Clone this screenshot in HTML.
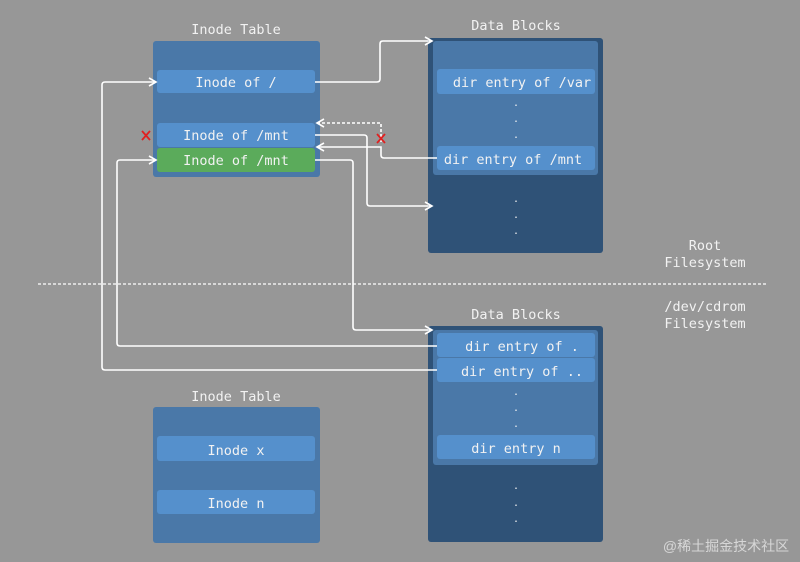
<!DOCTYPE html>
<html><head><style>
html,body{margin:0;padding:0;background:#979797;}
svg{display:block}
text{font-family:"DejaVu Sans Mono","Liberation Mono",monospace;font-size:13.5px;fill:#f2f2f2;text-anchor:middle;}
.d{font-size:10px}
</style></head><body>
<svg width="800" height="562" viewBox="0 0 800 562" xmlns="http://www.w3.org/2000/svg">
<defs>
<marker id="a" markerWidth="10" markerHeight="10" refX="8" refY="5" orient="auto" markerUnits="userSpaceOnUse">
<path d="M1,1 L8,5 L1,9" fill="none" stroke="#fff" stroke-width="1.6"/></marker>
</defs>
<text x="236" y="34">Inode Table</text>
<text x="516" y="30">Data Blocks</text>
<text x="516" y="319">Data Blocks</text>
<text x="236" y="401">Inode Table</text>
<text x="705" y="250">Root</text>
<text x="705" y="267">Filesystem</text>
<text x="705" y="311">/dev/cdrom</text>
<text x="705" y="328">Filesystem</text>
<line x1="38" y1="284" x2="766" y2="284" stroke="#fff" stroke-width="1.2" stroke-dasharray="3,2"/>

<rect x="153" y="41" width="167" height="136" rx="3" fill="#4a78a8"/>
<rect x="157" y="70" width="158" height="23" rx="3" fill="#5590cc"/>
<text x="236" y="87">Inode of /</text>
<rect x="157" y="123" width="158" height="24" rx="3" fill="#5590cc"/>
<text x="236" y="140">Inode of /mnt</text>
<rect x="157" y="148" width="158" height="24" rx="3" fill="#5bab5b"/>
<text x="236" y="165">Inode of /mnt</text>

<rect x="428" y="38" width="175" height="215" rx="3" fill="#2f5277"/>
<rect x="433" y="41" width="165" height="134" rx="3" fill="#4a78a8"/>
<rect x="437" y="69" width="158" height="25" rx="3" fill="#5590cc"/>
<text x="522" y="87">dir entry of /var</text>
<rect x="437" y="146" width="158" height="24" rx="3" fill="#5590cc"/>
<text x="513" y="164">dir entry of /mnt</text>
<text class="d" x="516" y="106">.</text><text class="d" x="516" y="122">.</text><text class="d" x="516" y="138">.</text>
<text class="d" x="516" y="202">.</text><text class="d" x="516" y="218">.</text><text class="d" x="516" y="234">.</text>

<rect x="428" y="326" width="175" height="216" rx="3" fill="#2f5277"/>
<rect x="433" y="330" width="165" height="135" rx="3" fill="#4a78a8"/>
<rect x="437" y="333" width="158" height="24" rx="3" fill="#5590cc"/>
<text x="522" y="351">dir entry of .</text>
<rect x="437" y="358" width="158" height="24" rx="3" fill="#5590cc"/>
<text x="522" y="376">dir entry of ..</text>
<rect x="437" y="435" width="158" height="24" rx="3" fill="#5590cc"/>
<text x="516" y="453">dir entry n</text>
<text class="d" x="516" y="395">.</text><text class="d" x="516" y="411">.</text><text class="d" x="516" y="427">.</text>
<text class="d" x="516" y="489">.</text><text class="d" x="516" y="506">.</text><text class="d" x="516" y="522">.</text>

<rect x="153" y="407" width="167" height="136" rx="3" fill="#4a78a8"/>
<rect x="157" y="436" width="158" height="25" rx="3" fill="#5590cc"/>
<text x="236" y="455">Inode x</text>
<rect x="157" y="490" width="158" height="24" rx="3" fill="#5590cc"/>
<text x="236" y="508">Inode n</text>

<g fill="none" stroke="#fff" stroke-width="1.6">
<path d="M315,82 H377 Q380,82 380,79 V44 Q380,41 383,41 H432" marker-end="url(#a)"/>
<path d="M381,142 V123 H317" stroke-dasharray="3,2" marker-end="url(#a)"/>
<path d="M437,158 H384 Q381,158 381,155 V147 H317" marker-end="url(#a)"/>
<path d="M315,135 H364 Q367,135 367,138 V203 Q367,206 370,206 H432" marker-end="url(#a)"/>
<path d="M315,160 H350 Q353,160 353,163 V327 Q353,330 356,330 H432" marker-end="url(#a)"/>
<path d="M437,346 H120 Q117,346 117,343 V163 Q117,160 120,160 H156" marker-end="url(#a)"/>
<path d="M437,370 H105 Q102,370 102,367 V85 Q102,82 105,82 H156" marker-end="url(#a)"/>
</g>
<g stroke="#e02020" stroke-width="1.8">
<path d="M142,131 L150,140 M150,131 L142,140"/>
<path d="M377,134 L385,143 M385,134 L377,143"/>
</g>
<text x="726" y="551" style="font-family:'Liberation Sans','Noto Sans CJK SC',sans-serif;font-size:14px;fill:#ececec;opacity:.75">@稀土掘金技术社区</text>
</svg>
</body></html>
